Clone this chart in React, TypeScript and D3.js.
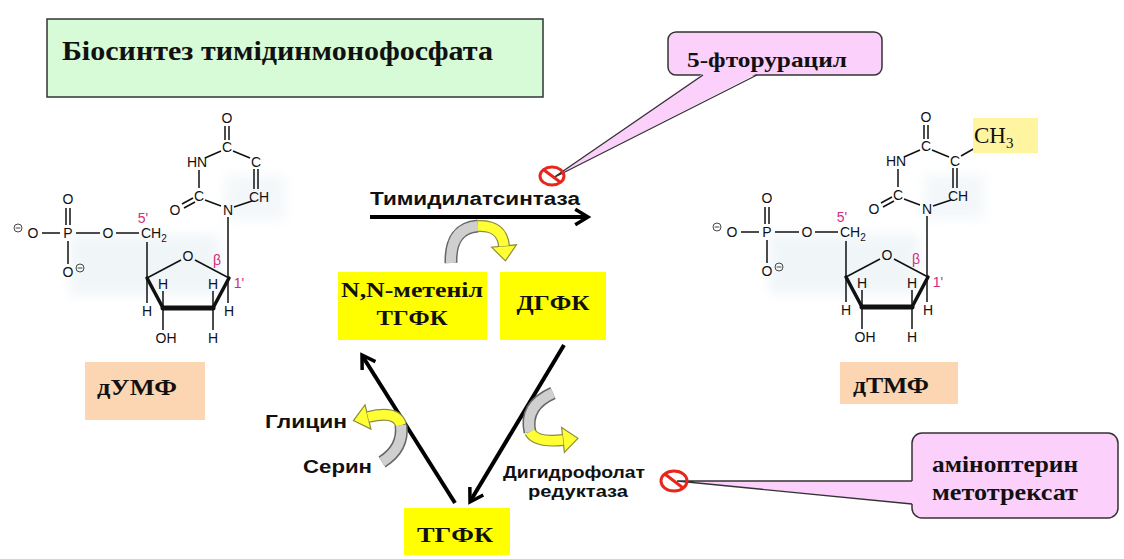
import React from 'react';
import * as d3 from 'd3';

const W = 1124;
const H = 559;

// ---- text content ----
const TITLE = 'Біосинтез тимідинмонофосфата';
const NUCLEOTIDES = ['дУМФ', 'дТМФ'];
const FOLATES = [['N,N-метеніл', 'ТГФК'], ['ДГФК'], ['ТГФК']];
const ENZYME_TS = 'Тимидилатсинтаза';
const ENZYME_DHFR = ['Дигидрофолат', 'редуктаза'];
const AMINO_ACIDS = ['Глицин', 'Серин'];
const INHIBITOR_TS = ['5-фторурацил'];
const INHIBITORS_DHFR = ['аміноптерин', 'метотрексат'];

// ---- molecule (nucleotide skeleton), local frame 300 x 260 ----
const ATOM_LABELS = ['O', 'P', 'O', 'O', 'O', 'O', 'HN', 'C', 'O', 'C', 'CH', 'N', 'C', 'O', 'H', 'H', 'H', 'H', 'OH', 'H'];
const ATOM_X = [33, 68, 68, 68, 108, 188, 197, 227, 227, 256, 259, 228, 199, 175, 163, 213, 147, 229, 166, 213];
const ATOM_Y = [133, 133, 99, 172, 133, 156, 62, 47, 18, 62, 97, 110, 96, 110, 184, 184, 211, 211, 238, 238];
const CHARGE_XY: [number, number][] = [[18, 128], [80, 168]];
const BONDS: [number, number, number, number][] = [
  [42, 133, 60, 133], [76, 133, 100, 133], [116, 133, 139, 133],
  [66, 108, 66, 125], [70, 108, 70, 125],
  [68, 141, 68, 164],
  [147, 142, 147, 203],
  [147, 178, 181, 160], [195, 160, 229, 178],
  [163, 191, 163, 208], [163, 208, 163, 230], [213, 191, 213, 208], [213, 208, 213, 230],
  [228, 117, 228, 203],
  [221, 106, 205, 100],
  [199, 88, 199, 70],
  [205, 58, 221, 51],
  [225, 26, 225, 40], [229, 26, 229, 40],
  [233, 51, 250, 58],
  [254, 69, 254, 89], [258, 69, 258, 89],
  [252, 101, 234, 107],
  [193, 98, 182, 104], [195, 102, 184, 108],
];
const HEAVY_BONDS: [number, number, number, number, number][] = [
  [147, 178, 163, 208, 3.5], [163, 208, 213, 208, 5], [213, 208, 229, 178, 3.5],
];
const STEREO_LABELS = ["5'", 'β', "1'"];
const STEREO_XY: [number, number][] = [[143, 118], [217, 160], [239, 183]];
const MOLECULE_ORIGINS: [number, number][] = [[0, 100], [699, 99]];

const SANS = "'Liberation Sans', Arial, sans-serif";
const SERIF = "'Liberation Serif', 'Times New Roman', serif";

const chevron = (x1: number, y1: number, x2: number, y2: number, len: number, spread: number) => {
  const a = Math.atan2(y2 - y1, x2 - x1);
  return d3.line()([
    [x2 - len * Math.cos(a - spread), y2 - len * Math.sin(a - spread)],
    [x2, y2],
    [x2 - len * Math.cos(a + spread), y2 - len * Math.sin(a + spread)],
  ]) as string;
};

const quad = (p0: number[], c: number[], p1: number[]) => {
  const p = d3.path();
  p.moveTo(p0[0], p0[1]);
  p.quadraticCurveTo(c[0], c[1], p1[0], p1[1]);
  return p.toString();
};

const head = (c: number[], e: number[], len: number, width: number) => {
  const dx = e[0] - c[0], dy = e[1] - c[1];
  const n = Math.hypot(dx, dy);
  const ux = dx / n, uy = dy / n;
  const px = -uy, py = ux;
  return d3.line()([
    [e[0] + px * width / 2, e[1] + py * width / 2],
    [e[0] + ux * len, e[1] + uy * len],
    [e[0] - px * width / 2, e[1] - py * width / 2],
  ])! + 'Z';
};

// curved two-tone arrow: grey part then yellow part with a head
const BentArrow = ({ g0, gc, mid, yc, end }: { g0: number[]; gc: number[]; mid: number[]; yc: number[]; end: number[] }) => (
  <g>
    <path d={quad(g0, gc, mid)} fill="none" stroke="#666" strokeWidth={13} />
    <path d={quad(g0, gc, mid)} fill="none" stroke="#cfcfcf" strokeWidth={10} />
    <path d={quad(mid, yc, end)} fill="none" stroke="#8c8c40" strokeWidth={12} />
    <path d={head(yc, end, 15, 25)} fill="#ffff33" stroke="#8c8c40" strokeWidth={1.2} />
    <path d={quad(mid, yc, end)} fill="none" stroke="#ffff33" strokeWidth={9.5} />
  </g>
);

const NoSign = ({ cx, cy, rx, ry }: { cx: number; cy: number; rx: number; ry: number }) => (
  <g>
    <ellipse cx={cx} cy={cy} rx={rx} ry={ry} fill="none" stroke="#e8261c" strokeWidth={3} />
    <line x1={cx - rx * 0.7} y1={cy - ry * 0.7} x2={cx + rx * 0.7} y2={cy + ry * 0.7} stroke="#e8261c" strokeWidth={3} />
  </g>
);

const Molecule = ({ ox, oy, methyl }: { ox: number; oy: number; methyl: boolean }) => {
  const x = d3.scaleLinear().domain([0, 300]).range([ox, ox + 300]);
  const y = d3.scaleLinear().domain([0, 260]).range([oy, oy + 260]);
  return (
    <g>
      <g filter="url(#blur)" opacity={0.4}>
        <rect x={x(70)} y={y(135)} width={150} height={60} fill="#dce8ef" />
        <rect x={x(225)} y={y(75)} width={60} height={45} fill="#e3ecf1" />
      </g>
      {BONDS.map((b, i) => (
        <line key={i} x1={x(b[0])} y1={y(b[1])} x2={x(b[2])} y2={y(b[3])} stroke="#111" strokeWidth={1.5} />
      ))}
      {HEAVY_BONDS.map((b, i) => (
        <line key={i} x1={x(b[0])} y1={y(b[1])} x2={x(b[2])} y2={y(b[3])} stroke="#111" strokeWidth={b[4]} strokeLinecap="round" />
      ))}
      {ATOM_LABELS.map((t, i) => (
        <text key={i} x={x(ATOM_X[i])} y={y(ATOM_Y[i]) + 5} textAnchor="middle" fontFamily={SANS} fontSize={14} fill="#111">{t}</text>
      ))}
      <text x={x(141)} y={y(133) + 5} fontFamily={SANS} fontSize={14} fill="#111">CH<tspan dy={4} fontSize={10}>2</tspan></text>
      {CHARGE_XY.map((c, i) => (
        <g key={i}>
          <circle cx={x(c[0])} cy={y(c[1])} r={4} fill="none" stroke="#333" strokeWidth={0.9} />
          <line x1={x(c[0]) - 2.4} x2={x(c[0]) + 2.4} y1={y(c[1])} y2={y(c[1])} stroke="#333" strokeWidth={0.9} />
        </g>
      ))}
      {STEREO_LABELS.map((t, i) => (
        <text key={i} x={x(STEREO_XY[i][0])} y={y(STEREO_XY[i][1]) + 5} textAnchor="middle" fontFamily={SANS} fontSize={14} fill="#d42a7c">{t}</text>
      ))}
      {methyl && (
        <g>
          <line x1={x(262)} y1={y(57)} x2={x(276)} y2={y(49)} stroke="#111" strokeWidth={1.5} />
          <rect x={x(274)} y={y(19)} width={65} height={35} fill="#fff5a0" />
          <text x={x(275)} y={y(44)} fontFamily={SERIF} fontSize={23} fill="#111">CH<tspan dy={5} fontSize={15}>3</tspan></text>
        </g>
      )}
    </g>
  );
};

export default function App() {
  const serifBold = { fontFamily: SERIF, fontWeight: 700, fill: '#111' } as const;
  const sansBold = { fontFamily: SANS, fontWeight: 700, fill: '#111' } as const;
  const fit = 'spacingAndGlyphs';

  return (
    <svg width={W} height={H} viewBox={`0 0 ${W} ${H}`} style={{ position: 'absolute', left: 0, top: 0, background: '#fff' }}>
      <defs>
        <filter id="blur" x="-30%" y="-30%" width="160%" height="160%">
          <feGaussianBlur stdDeviation={6} />
        </filter>
      </defs>
      <rect width={W} height={H} fill="#fff" />

      {/* title */}
      <rect x={47} y={19} width={496} height={78} fill="#d7fad7" stroke="#333" strokeWidth={1.5} />
      <text x={62} y={60} fontSize={27} textLength={431} lengthAdjust={fit} {...serifBold}>{TITLE}</text>

      {/* molecules */}
      {MOLECULE_ORIGINS.map((o, i) => (
        <Molecule key={i} ox={o[0]} oy={o[1]} methyl={i === 1} />
      ))}

      {/* nucleotide labels */}
      <rect x={85} y={362} width={120} height={58} fill="#fcd5b2" />
      <text x={97} y={395} fontSize={24} textLength={80} lengthAdjust={fit} {...serifBold}>{NUCLEOTIDES[0]}</text>
      <rect x={840} y={362} width={118} height={42} fill="#fcd5b2" />
      <text x={853} y={393} fontSize={24} textLength={76} lengthAdjust={fit} {...serifBold}>{NUCLEOTIDES[1]}</text>

      {/* thymidylate synthase reaction */}
      <text x={370} y={205} fontSize={18} textLength={210} lengthAdjust={fit} {...sansBold}>{ENZYME_TS}</text>
      <line x1={370} y1={217} x2={586} y2={217} stroke="#000" strokeWidth={4} />
      <path d={chevron(370, 217, 588, 217, 15, 0.55)} fill="none" stroke="#000" strokeWidth={3.5} />
      <BentArrow g0={[451, 263]} gc={[450, 228]} mid={[478, 226]} yc={[502, 225]} end={[504, 246]} />

      {/* folate boxes */}
      <rect x={338} y={272} width={149} height={68} fill="#ffff00" />
      <text x={412} y={297} textAnchor="middle" fontSize={21} textLength={142} lengthAdjust={fit} {...serifBold}>{FOLATES[0][0]}</text>
      <text x={412} y={325} textAnchor="middle" fontSize={22} textLength={71} lengthAdjust={fit} {...serifBold}>{FOLATES[0][1]}</text>
      <rect x={500} y={272} width={106} height={68} fill="#ffff00" />
      <text x={553} y={310} textAnchor="middle" fontSize={22} textLength={73} lengthAdjust={fit} {...serifBold}>{FOLATES[1][0]}</text>
      <rect x={404} y={508} width={106} height={47} fill="#ffff00" />
      <text x={455} y={542} textAnchor="middle" fontSize={22} textLength={76} lengthAdjust={fit} {...serifBold}>{FOLATES[2][0]}</text>

      {/* cycle arrows */}
      <line x1={455} y1={503} x2={363} y2={357} stroke="#000" strokeWidth={4} />
      <path d={chevron(455, 503, 362, 355, 15, 0.55)} fill="none" stroke="#000" strokeWidth={3.5} />
      <line x1={564} y1={345} x2={471} y2={500} stroke="#000" strokeWidth={4} />
      <path d={chevron(564, 345, 470, 502, 15, 0.55)} fill="none" stroke="#000" strokeWidth={3.5} />

      {/* serine -> glycine */}
      <BentArrow g0={[382, 462]} gc={[404, 448]} mid={[401, 425]} yc={[397, 410]} end={[368, 417]} />
      <text x={265} y={428} fontSize={18} textLength={82} lengthAdjust={fit} {...sansBold}>{AMINO_ACIDS[0]}</text>
      <text x={303} y={473} fontSize={18} textLength={69} lengthAdjust={fit} {...sansBold}>{AMINO_ACIDS[1]}</text>

      {/* DHFR */}
      <BentArrow g0={[553, 393]} gc={[524, 406]} mid={[530, 432]} yc={[536, 443]} end={[563, 440]} />
      <text x={503} y={478} fontSize={17} textLength={142} lengthAdjust={fit} {...sansBold}>{ENZYME_DHFR[0]}</text>
      <text x={528} y={497} fontSize={17} textLength={100} lengthAdjust={fit} {...sansBold}>{ENZYME_DHFR[1]}</text>

      {/* 5-fluorouracil callout */}
      <rect x={668} y={32} width={214} height={43} rx={8} fill="#fbd0fb" stroke="#333" strokeWidth={1.5} />
      <path d={d3.line()([[703, 73.5], [553, 178], [757, 73.5]])! + 'Z'} fill="#fbd0fb" />
      <path d={d3.line()([[703, 75], [553, 178], [757, 75]])!} fill="none" stroke="#333" strokeWidth={1.3} />
      <text x={687} y={67} fontSize={22} textLength={160} lengthAdjust={fit} {...serifBold}>{INHIBITOR_TS[0]}</text>
      <NoSign cx={552} cy={176} rx={12} ry={9} />

      {/* aminopterin / methotrexate callout */}
      <rect x={912} y={433} width={206} height={85} rx={10} fill="#fbd0fb" stroke="#333" strokeWidth={1.5} />
      <path d={d3.line()([[913.5, 481], [677, 481], [913.5, 504]])! + 'Z'} fill="#fbd0fb" />
      <path d={d3.line()([[912, 481], [677, 481], [912, 504]])!} fill="none" stroke="#333" strokeWidth={1.3} />
      <text x={932} y={472} fontSize={24} textLength={146} lengthAdjust={fit} {...serifBold}>{INHIBITORS_DHFR[0]}</text>
      <text x={932} y={500} fontSize={24} textLength={146} lengthAdjust={fit} {...serifBold}>{INHIBITORS_DHFR[1]}</text>
      <NoSign cx={674} cy={481} rx={13} ry={10} />
    </svg>
  );
}
